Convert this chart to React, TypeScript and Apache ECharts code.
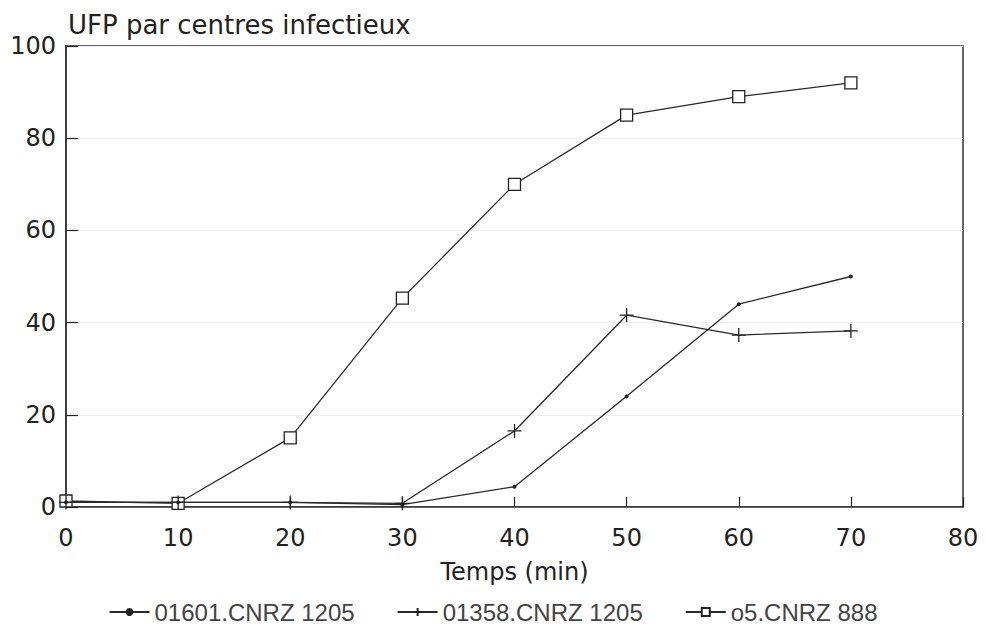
import React, { useEffect, useRef } from "react";
import * as echarts from "echarts";

const times = [0, 10, 20, 30, 40, 50, 60, 70];
const seriesNames = ["01601.CNRZ 1205", "01358.CNRZ 1205", "o5.CNRZ 888"];
const s01601 = [1, 1, 1, 0.5, 4.4, 24, 44, 50];
const s01358 = [1, 1, 1, 0.8, 16.5, 41.6, 37.3, 38.2];
const s888 = [1.3, 0.8, 15, 45.3, 70, 85, 89, 92];

const FONT = "'DejaVu Sans', sans-serif";
const LEGEND_FONT = "'Liberation Sans', Arial, sans-serif";
const INK = "#222";

export default function App() {
  const ref = useRef<HTMLDivElement>(null);
  useEffect(() => {
    if (!ref.current) return;
    const chart = echarts.init(ref.current, undefined, { renderer: "svg" });
    const mk = (vals: number[]) => times.map((t, i) => [t, vals[i]]);
    const lineStyle = { color: "#2a2a2a", width: 1.3 };
    chart.setOption({
      animation: false,
      backgroundColor: "#fff",
      textStyle: { fontFamily: FONT },
      title: {
        text: "UFP par centres infectieux",
        left: 63,
        top: 7,
        textStyle: { fontFamily: FONT, fontSize: 26, fontWeight: "normal", color: INK },
      },
      grid: {
        left: 66,
        right: 23,
        top: 46,
        bottom: 124,
        show: true,
        borderColor: "#333",
        borderWidth: 1.5,
        backgroundColor: "transparent",
      },
      xAxis: {
        type: "value",
        min: 0,
        max: 80,
        interval: 10,
        name: "Temps (min)",
        nameLocation: "middle",
        nameGap: 53,
        nameTextStyle: { fontFamily: FONT, fontSize: 24, color: INK },
        axisLine: { show: true, lineStyle: { color: "#333", width: 1.5 } },
        axisTick: { show: true, inside: true, length: 10, lineStyle: { color: INK, width: 1.2 } },
        axisLabel: { fontFamily: FONT, fontSize: 24, color: INK, margin: 19 },
        splitLine: { show: false },
      },
      yAxis: {
        type: "value",
        min: 0,
        max: 100,
        interval: 20,
        axisLine: { show: true, lineStyle: { color: "#333", width: 1.5 } },
        axisTick: { show: true, inside: true, length: 12, lineStyle: { color: INK, width: 1.2 } },
        axisLabel: { fontFamily: FONT, fontSize: 24, color: INK, margin: 10 },
        splitLine: { show: true, lineStyle: { color: "#f0f0f0", width: 1 } },
      },
      legend: {
        bottom: 2,
        left: "center",
        itemGap: 42,
        itemWidth: 40,
        itemHeight: 10,
        textStyle: { fontFamily: LEGEND_FONT, fontSize: 24, color: "#444" },
        data: seriesNames,
      },
      series: [
        {
          name: seriesNames[0],
          type: "line",
          data: mk(s01601),
          symbol: "circle",
          symbolSize: 4,
          itemStyle: { color: INK },
          lineStyle,
          z: 3,
        },
        {
          name: seriesNames[1],
          type: "line",
          data: mk(s01358),
          symbol: "path://M5 0 L5 10 M0 5 L10 5",
          symbolSize: 14,
          itemStyle: { color: "none", borderColor: INK, borderWidth: 1.3 },
          lineStyle,
          z: 3,
        },
        {
          name: seriesNames[2],
          type: "line",
          data: mk(s888),
          symbol: "rect",
          symbolSize: 12,
          itemStyle: { color: "#fff", borderColor: INK, borderWidth: 1.3 },
          lineStyle,
          z: 2,
        },
      ],
    });
    return () => chart.dispose();
  }, []);
  return <div ref={ref} style={{ width: 986, height: 631, position: "absolute", left: 0, top: 0 }} />;
}
